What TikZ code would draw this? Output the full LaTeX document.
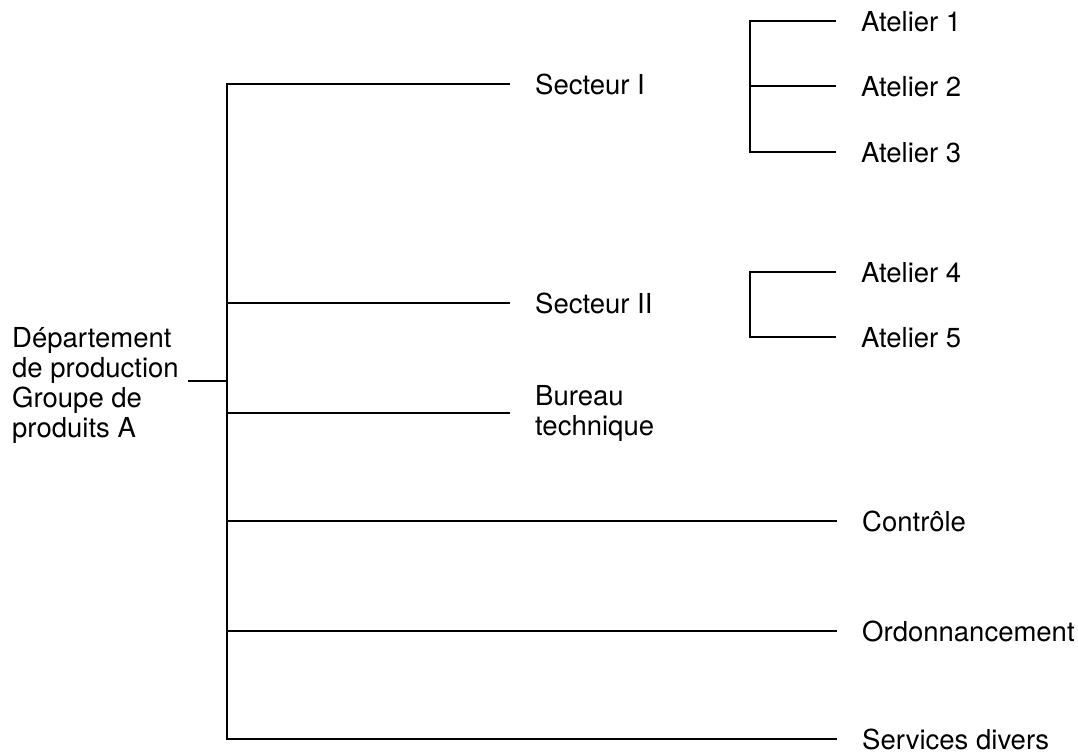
\documentclass[tikz,border=0pt]{standalone}
\usepackage{fontspec}
\setmainfont{TeX Gyre Heros}
\begin{document}
\begin{tikzpicture}[x=1pt, y=-1pt,
  every node/.style={font=\fontsize{27.5}{30}\selectfont},
  lbl/.style={anchor=west, inner xsep=25pt, inner ysep=0pt, text height=21.7pt, text depth=0pt},
  lbltwo/.style={anchor=west, inner xsep=25pt, align=left},
  bar/.style={line width=2pt}]
\useasboundingbox (0,0) rectangle (1078,754);

% departement
\node[anchor=west, inner xsep=9pt, align=left] (dep) at (3,385) {Département\\de production\\Groupe de\\produits A};
\coordinate (b0) at (227,381);
\coordinate (b1) at (227,84);
\coordinate (b2) at (227,303);
\coordinate (b3) at (227,413);
\coordinate (b4) at (227,521);
\coordinate (b5) at (227,631);
\coordinate (b6) at (227,739);

\node[lbl] (s1) at (510,84) {Secteur I};
\node[lbl] (s2) at (510,303) {Secteur II};
\node[lbltwo] (bt) at (510,413) {Bureau\\technique};
\node[lbl] (ctl) at (837,521) {Contrôle};
\node[lbl] (ord) at (837,631) {Ordonnancement};
\node[lbl] (div) at (837,739) {Services divers};

% ateliers
\foreach \i/\y in {1/21,2/86,3/152,4/272,5/337}{
  \coordinate (k\i) at (750,\y);
  \node[lbl] (at\i) at (836,\y) {Atelier \i};
}

\draw[bar] (dep.east |- b0) -- (b0);
\draw[bar] (s1.west) -- (b1) -- (b6) -- (div.west);
\draw[bar] (b2) -- (s2.west) (b3) -- (bt.west);
\draw[bar] (b4) -- (ctl.west) (b5) -- (ord.west);
\draw[bar] (at1.west) -- (k1) -- (k3) -- (at3.west) (k2) -- (at2.west);
\draw[bar] (at4.west) -- (k4) -- (k5) -- (at5.west);
\end{tikzpicture}
\end{document}
